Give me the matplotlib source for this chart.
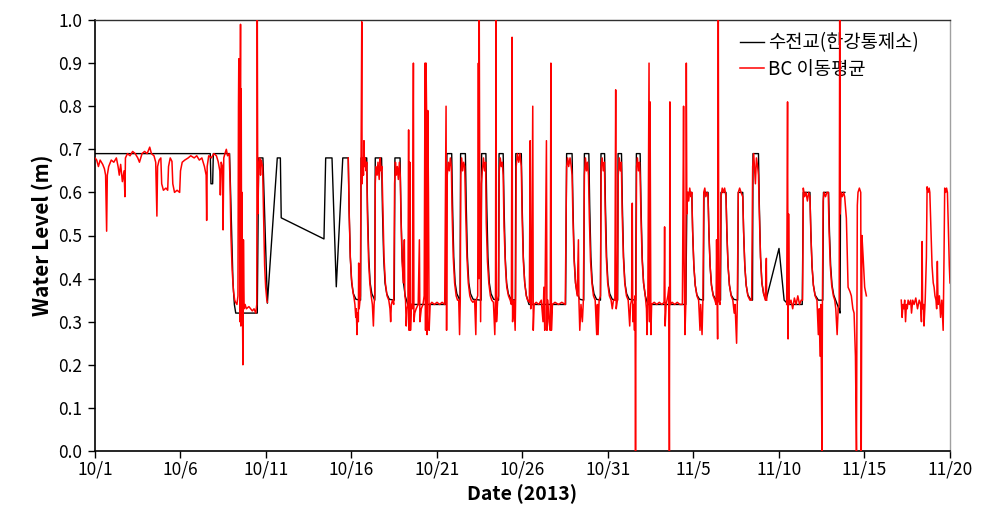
import numpy as np
import matplotlib
matplotlib.use("Agg")
import matplotlib.pyplot as plt

plt.rcParams['font.family'] = ['Noto Sans CJK KR', 'DejaVu Sans']

# ---- data (x in days since 2013-10-01) ----
tick_days = [0, 5, 10, 15, 20, 25, 30, 35, 40, 45, 50]
tick_labels = ['10/1', '10/6', '10/11', '10/16', '10/21', '10/26', '10/31',
               '11/5', '11/10', '11/15', '11/20']

black_days = [
    0.00, 6.74, 6.78, 6.88, 6.92, 7.87,
    8.00, 8.07, 8.15, 8.23, 9.49, 9.57, 9.82, 10.08, 10.66, 10.84, 10.89, 13.39, 13.49, 13.86, 14.11, 14.49, 14.81,
    14.86, 14.93, 15.01, 15.11, 15.26, 15.53, 15.56, 15.89,
    15.94, 16.01, 16.09, 16.19, 16.34, 16.36, 16.39, 16.76,
    16.81, 16.88, 16.96, 17.06, 17.21, 17.50, 17.54, 17.84,
    17.89, 17.96, 18.04, 18.14, 18.29, 20.52, 20.58, 20.86,
    20.91, 20.98, 21.06, 21.16, 21.31, 21.35, 21.38, 21.66,
    21.71, 21.78, 21.86, 21.96, 22.11, 22.58, 22.61, 22.86,
    22.91, 22.98, 23.06, 23.16, 23.31, 23.60, 23.63, 23.87,
    23.92, 23.99, 24.07, 24.17, 24.32, 24.58, 24.61, 24.93,
    24.98, 25.05, 25.13, 25.23, 25.38, 27.52, 27.58, 27.90,
    27.95, 28.02, 28.10, 28.20, 28.35, 28.58, 28.62, 28.88,
    28.93, 29.00, 29.08, 29.18, 29.33, 29.56, 29.59, 29.80,
    29.85, 29.92, 30.00, 30.10, 30.25, 30.56, 30.59, 30.79,
    30.84, 30.91, 30.99, 31.09, 31.24, 31.62, 31.66, 31.88,
    31.93, 32.00, 32.08, 32.18, 32.33, 34.55, 34.62, 34.90,
    34.95, 35.02, 35.10, 35.20, 35.35, 35.58, 35.61, 35.85,
    35.90, 35.97, 36.05, 36.15, 36.30, 36.58, 36.61, 36.90,
    36.95, 37.02, 37.10, 37.20, 37.35, 37.58, 37.62, 37.88,
    37.93, 38.00, 38.08, 38.18, 38.33, 38.45, 38.48, 38.80,
    38.85, 38.92, 39.00, 39.10, 39.24, 40.00, 40.30, 40.55, 41.36, 41.42, 41.81,
    41.86, 41.93, 42.01, 42.11, 42.30, 42.56, 42.60, 42.90,
    42.95, 43.02, 43.10, 43.20, 43.50, 43.57, 43.60, 43.85,
]
black_level = [
    0.69, 0.69, 0.62, 0.62, 0.69, 0.69,
    0.50, 0.39, 0.34, 0.32, 0.32, 0.68, 0.68, 0.343, 0.68, 0.68, 0.541, 0.492, 0.68, 0.68, 0.381, 0.68, 0.68,
    0.56, 0.45, 0.39, 0.365, 0.352, 0.35, 0.68, 0.68,
    0.56, 0.45, 0.39, 0.365, 0.352, 0.35, 0.68, 0.68,
    0.56, 0.45, 0.39, 0.365, 0.352, 0.35, 0.68, 0.68,
    0.56, 0.45, 0.39, 0.36, 0.34, 0.34, 0.69, 0.69,
    0.57, 0.45, 0.39, 0.365, 0.352, 0.35, 0.69, 0.69,
    0.57, 0.45, 0.39, 0.365, 0.352, 0.35, 0.69, 0.69,
    0.57, 0.45, 0.39, 0.365, 0.352, 0.35, 0.69, 0.69,
    0.57, 0.45, 0.39, 0.365, 0.352, 0.35, 0.69, 0.69,
    0.57, 0.45, 0.39, 0.36, 0.34, 0.34, 0.69, 0.69,
    0.57, 0.45, 0.39, 0.365, 0.352, 0.35, 0.69, 0.69,
    0.57, 0.45, 0.39, 0.365, 0.352, 0.35, 0.69, 0.69,
    0.57, 0.45, 0.39, 0.365, 0.352, 0.35, 0.69, 0.69,
    0.57, 0.45, 0.39, 0.365, 0.352, 0.35, 0.69, 0.69,
    0.57, 0.45, 0.39, 0.36, 0.34, 0.34, 0.60, 0.60,
    0.51, 0.43, 0.385, 0.362, 0.352, 0.35, 0.60, 0.60,
    0.51, 0.43, 0.385, 0.362, 0.352, 0.35, 0.60, 0.60,
    0.51, 0.43, 0.385, 0.362, 0.352, 0.35, 0.60, 0.60,
    0.51, 0.43, 0.385, 0.362, 0.352, 0.35, 0.69, 0.69,
    0.57, 0.45, 0.39, 0.365, 0.35, 0.47, 0.35, 0.34, 0.34, 0.60, 0.60,
    0.51, 0.43, 0.385, 0.362, 0.35, 0.35, 0.60, 0.60,
    0.51, 0.43, 0.385, 0.362, 0.33, 0.32, 0.60, 0.60,
]

nan = float('nan')
red_days = [
    0.00, 0.10, 0.20, 0.30, 0.45, 0.55, 0.62, 0.68, 0.72, 0.80, 0.95, 1.10, 1.25, 1.35, 1.42, 1.50,
    1.60, 1.70, 1.75, 1.78, 1.90, 2.05, 2.20, 2.35, 2.50, 2.60, 2.75, 2.90, 3.05, 3.20, 3.30, 3.45,
    3.55, 3.62, 3.66, 3.75, 3.85, 3.90, 4.00, 4.15, 4.25, 4.30, 4.40, 4.50, 4.55, 4.65, 4.80, 4.95,
    5.00, 5.10, 5.25, 5.45, 5.60, 5.80, 5.95, 6.10, 6.25, 6.40, 6.50, 6.53, 6.56, 6.65, 6.80, 6.95,
    7.10, 7.20, 7.30, 7.33, 7.38, 7.45, 7.49, 7.53, 7.60, 7.68, 7.75, 7.85, 7.90, 7.95, 8.02, 8.10,
    8.17, 8.22, 8.30, 8.36, 8.39, 8.41, 8.43, 8.45, 8.47, 8.49, 8.51, 8.53, 8.55, 8.57, 8.60, 8.63,
    8.65, 8.68, 8.72, 8.78, 8.85, 9.00, 9.10, 9.20, 9.30, 9.40, 9.46, 9.49, 9.52, 9.57, 9.63, 9.68,
    9.72, 9.80, 9.86, 9.92, 9.98, 10.05, 10.08, 10.09, 14.80,
    14.81, 14.86, 14.93, 15.00, 15.08, 15.15, 15.20, 15.25, 15.28, 15.32, 15.35, 15.40, 15.42, 15.45,
    15.52, 15.56, 15.60, 15.62, 15.66, 15.70, 15.73, 15.76, 15.80, 15.85, 15.89, 15.93, 16.00, 16.07,
    16.15, 16.22, 16.28, 16.32, 16.36, 16.39, 16.43, 16.50, 16.55, 16.62, 16.68, 16.73, 16.78, 16.84,
    16.90, 16.98, 17.08, 17.18, 17.25, 17.29, 17.33, 17.40, 17.47, 17.52, 17.57, 17.62, 17.68, 17.74,
    17.80, 17.85, 17.90, 17.96, 18.03, 18.09, 18.12, 18.16, 18.20, 18.25, 18.30, 18.34, 18.37, 18.41,
    18.45, 18.50, 18.56, 18.62, 18.65, 18.70, 18.78, 18.90, 18.97, 19.00, 19.08, 19.18, 19.25, 19.30,
    19.33, 19.36, 19.39, 19.42, 19.46, 19.50, 19.54, 19.60, 19.70, 19.85, 20.00, 20.15, 20.30, 20.45,
    20.53, 20.56, 20.60, 20.66, 20.72, 20.78, 20.84, 20.88, 20.95, 21.03, 21.12, 21.20, 21.27, 21.32,
    21.36, 21.39, 21.44, 21.50, 21.56, 21.62, 21.68, 21.75, 21.83, 21.92, 22.00, 22.10, 22.20, 22.27,
    22.30, 22.38, 22.42, 22.45, 22.47, 22.50, 22.55, 22.60, 22.65, 22.72, 22.78, 22.84, 22.88, 22.95,
    23.03, 23.12, 23.20, 23.30, 23.38, 23.42, 23.45, 23.48, 23.55, 23.60, 23.64, 23.70, 23.76, 23.82,
    23.87, 23.92, 24.00, 24.08, 24.18, 24.28, 24.35, 24.39, 24.42, 24.50, 24.57, 24.60, 24.63, 24.70,
    24.78, 24.85, 24.93, 24.98, 25.05, 25.13, 25.22, 25.30, 25.40, 25.45, 25.48, 25.53, 25.60, 25.63,
    25.68, 25.80, 25.95, 26.10, 26.20, 26.25, 26.30, 26.35, 26.40, 26.43, 26.48, 26.55, 26.62, 26.66,
    26.69, 26.75, 26.90, 27.10, 27.30, 27.50, 27.58, 27.64, 27.70, 27.78, 27.85, 27.90, 27.95, 28.02,
    28.10, 28.20, 28.27, 28.30, 28.35, 28.42, 28.50, 28.56, 28.62, 28.68, 28.74, 28.80, 28.86, 28.91,
    28.98, 29.06, 29.15, 29.25, 29.34, 29.38, 29.42, 29.48, 29.56, 29.60, 29.66, 29.72, 29.79, 29.84,
    29.90, 29.98, 30.08, 30.18, 30.25, 30.32, 30.40, 30.45, 30.48, 30.55, 30.60, 30.66, 30.72, 30.78,
    30.83, 30.90, 30.98, 31.08, 31.18, 31.27, 31.32, 31.38, 31.42, 31.45, 31.50, 31.55, 31.58, 31.61,
    31.64, 31.67, 31.72, 31.78, 31.84, 31.88, 31.93, 32.00, 32.08, 32.18, 32.25, 32.28, 32.33, 32.40,
    32.43, 32.46, 32.49, 32.51, 32.55, 32.70, 32.85, 33.00, 33.15, 33.28, 33.31, 33.34, 33.40, 33.50,
    33.56, 33.59, 33.62, 33.65, 33.75, 33.90, 34.05, 34.20, 34.35, 34.42, 34.45, 34.50, 34.55, 34.58,
    34.61, 34.66, 34.72, 34.78, 34.85, 34.90, 34.95, 35.02, 35.10, 35.20, 35.30, 35.38, 35.42, 35.50,
    35.55, 35.60, 35.66, 35.72, 35.80, 35.85, 35.90, 35.97, 36.05, 36.15, 36.25, 36.32, 36.35, 36.39,
    36.41, 36.45, 36.48, 36.55, 36.61, 36.68, 36.75, 36.82, 36.90, 36.95, 37.02, 37.10, 37.20, 37.30,
    37.38, 37.43, 37.48, 37.52, 37.56, 37.62, 37.70, 37.78, 37.88, 37.93, 38.00, 38.08, 38.18, 38.30,
    38.40, 38.46, 38.52, 38.58, 38.62, 38.68, 38.75, 38.80, 38.85, 38.92, 39.00, 39.10, 39.20, 39.26,
    39.28, 39.29, 40.44,
    40.45, 40.50, 40.53, 40.56, 40.60, 40.70, 40.80, 40.90, 41.00, 41.10, 41.20, 41.30, 41.38, 41.42,
    41.50, 41.58, 41.66, 41.74, 41.81, 41.86, 41.93, 42.01, 42.11, 42.22, 42.30, 42.35, 42.40, 42.45,
    42.51, 42.54, 42.58, 42.63, 42.72, 42.80, 42.88, 42.93, 43.00, 43.08, 43.18, 43.26, 43.32, 43.40,
    43.46, 43.52, 43.55, 43.58, 43.62, 43.70, 43.78, 43.84, 43.94, 44.04, 44.15, 44.23, 44.32, 44.39,
    44.47, 44.53, 44.58, 44.62, 44.70, 44.78, 44.81, 44.85, 44.92, 45.01, 45.11, 45.12, 47.14,
    47.15, 47.20, 47.25, 47.30, 47.35, 47.40, 47.45, 47.50, 47.55, 47.62, 47.70, 47.75, 47.82, 47.90,
    48.00, 48.10, 48.20, 48.28, 48.33, 48.37, 48.40, 48.45, 48.48, 48.55, 48.62, 48.66, 48.72, 48.78,
    48.82, 48.88, 48.95, 49.02, 49.07, 49.12, 49.18, 49.22, 49.26, 49.30, 49.38, 49.45, 49.52, 49.58,
    49.60, 49.65, 49.69, 49.75, 49.80, 49.85, 49.90, 49.96, 50.00,
]
red_level = [
    0.68, 0.675, 0.66, 0.675, 0.665, 0.655, 0.64, 0.51, 0.64, 0.66, 0.675, 0.67, 0.68, 0.66, 0.64, 0.665,
    0.625, 0.65, 0.59, 0.68, 0.69, 0.685, 0.695, 0.69, 0.68, 0.67, 0.69, 0.695, 0.69, 0.705, 0.69, 0.685,
    0.67, 0.545, 0.66, 0.675, 0.68, 0.62, 0.605, 0.61, 0.605, 0.66, 0.68, 0.672, 0.62, 0.60, 0.605, 0.60,
    0.65, 0.67, 0.675, 0.68, 0.685, 0.68, 0.685, 0.675, 0.68, 0.66, 0.64, 0.535, 0.66, 0.685, 0.68, 0.69,
    0.685, 0.672, 0.65, 0.594, 0.67, 0.66, 0.513, 0.68, 0.69, 0.70, 0.685, 0.69, 0.62, 0.50, 0.42, 0.37,
    0.35, 0.345, 0.34, 0.36, 0.80, 0.91, 0.55, 0.86, 0.30, 0.75, 0.99, 0.29, 0.84, 0.45, 0.60, 0.30,
    0.20, 0.49, 0.33, 0.34, 0.33, 0.335, 0.33, 0.325, 0.33, 0.32, 0.34, 1.02, 0.55, 0.66, 0.68, 0.64,
    0.675, 0.66, 0.55, 0.43, 0.38, 0.35, 0.345, nan, nan,
    0.68, 0.56, 0.45, 0.40, 0.37, 0.355, 0.34, 0.31, 0.33, 0.27, 0.32, 0.30, 0.436, 0.33,
    0.36, 0.66, 0.996, 0.62, 0.68, 0.64, 0.72, 0.66, 0.68, 0.65, 0.67, 0.55, 0.44, 0.39,
    0.36, 0.34, 0.29, 0.34, 0.36, 0.62, 0.66, 0.64, 0.67, 0.63, 0.68, 0.65, 0.66, 0.55,
    0.45, 0.39, 0.36, 0.35, 0.33, 0.30, 0.34, 0.35, 0.34, 0.62, 0.67, 0.64, 0.66, 0.63,
    0.67, 0.64, 0.53, 0.44, 0.39, 0.49, 0.36, 0.35, 0.29, 0.33, 0.34, 0.745, 0.28, 0.67,
    0.28, 0.34, 0.33, 0.90, 0.30, 0.32, 0.33, 0.34, 0.49, 0.30, 0.33, 0.34, 0.36, 0.90,
    0.28, 0.90, 0.79, 0.27, 0.79, 0.60, 0.28, 0.34, 0.345, 0.34, 0.345, 0.34, 0.345, 0.34,
    0.80, 0.28, 0.64, 0.67, 0.65, 0.68, 0.66, 0.56, 0.45, 0.39, 0.36, 0.35, 0.35, 0.27,
    0.35, 0.64, 0.68, 0.65, 0.67, 0.66, 0.55, 0.45, 0.39, 0.36, 0.35, 0.345, 0.35, 0.27,
    0.35, 0.36, 0.90, 0.40, 1.02, 0.60, 0.30, 0.62, 0.65, 0.68, 0.65, 0.67, 0.53, 0.44,
    0.39, 0.36, 0.35, 0.345, 0.27, 0.35, 1.02, 0.30, 0.35, 0.36, 0.65, 0.68, 0.66, 0.67,
    0.64, 0.52, 0.43, 0.38, 0.36, 0.35, 0.34, 0.96, 0.30, 0.35, 0.28, 0.36, 0.66, 0.69,
    0.67, 0.69, 0.66, 0.54, 0.44, 0.39, 0.36, 0.35, 0.345, 0.72, 0.33, 0.34, 0.80, 0.28,
    0.34, 0.345, 0.34, 0.35, 0.30, 0.38, 0.28, 0.50, 0.72, 0.28, 0.35, 0.30, 0.28, 0.90,
    0.28, 0.34, 0.345, 0.34, 0.345, 0.34, 0.66, 0.68, 0.66, 0.68, 0.66, 0.64, 0.54, 0.44,
    0.39, 0.36, 0.49, 0.35, 0.28, 0.34, 0.30, 0.35, 0.64, 0.68, 0.65, 0.67, 0.64, 0.54,
    0.44, 0.39, 0.36, 0.35, 0.27, 0.34, 0.27, 0.35, 0.36, 0.66, 0.68, 0.65, 0.67, 0.55,
    0.45, 0.39, 0.36, 0.35, 0.33, 0.35, 0.35, 0.838, 0.33, 0.35, 0.64, 0.68, 0.65, 0.67,
    0.55, 0.45, 0.39, 0.36, 0.35, 0.29, 0.34, 0.35, 0.575, 0.30, 0.34, 0.28, 0.36, 0.00,
    0.40, 0.66, 0.68, 0.65, 0.67, 0.64, 0.54, 0.44, 0.39, 0.36, 0.33, 0.27, 0.35, 0.90,
    0.30, 0.81, 0.45, 0.27, 0.34, 0.345, 0.34, 0.345, 0.34, 0.345, 0.52, 0.29, 0.34, 0.36,
    0.38, 0.00, 0.81, 0.34, 0.345, 0.34, 0.345, 0.34, 0.34, 0.80, 0.45, 0.27, 0.34, 0.90,
    0.55, 0.60, 0.58, 0.61, 0.59, 0.60, 0.51, 0.43, 0.385, 0.36, 0.35, 0.28, 0.34, 0.27,
    0.35, 0.60, 0.61, 0.59, 0.60, 0.59, 0.51, 0.43, 0.385, 0.36, 0.35, 0.34, 0.49, 0.33,
    0.26, 1.02, 0.35, 0.34, 0.59, 0.61, 0.60, 0.61, 0.59, 0.51, 0.43, 0.385, 0.36, 0.35,
    0.32, 0.34, 0.29, 0.25, 0.34, 0.60, 0.61, 0.60, 0.59, 0.51, 0.43, 0.385, 0.36, 0.35,
    0.35, 0.66, 0.69, 0.65, 0.62, 0.68, 0.66, 0.64, 0.55, 0.45, 0.39, 0.365, 0.35, 0.447,
    0.35, nan, nan,
    0.34, 0.81, 0.26, 0.55, 0.34, 0.35, 0.33, 0.355, 0.34, 0.36, 0.34, 0.35, 0.35, 0.61,
    0.59, 0.60, 0.58, 0.60, 0.59, 0.51, 0.43, 0.385, 0.36, 0.35, 0.27, 0.33, 0.22, 0.34,
    0.00, 0.35, 0.58, 0.60, 0.59, 0.60, 0.60, 0.51, 0.43, 0.385, 0.36, 0.35, 0.33, 0.27,
    0.33, 0.34, 1.02, 0.55, 0.60, 0.59, 0.60, 0.59, 0.54, 0.38, 0.37, 0.36, 0.33, 0.32,
    0.22, 0.00, 0.57, 0.60, 0.61, 0.60, 0.00, 0.50, 0.45, 0.38, 0.36, nan, nan,
    0.35, 0.31, 0.34, 0.33, 0.35, 0.30, 0.34, 0.33, 0.35, 0.34, 0.35, 0.32, 0.35, 0.34,
    0.355, 0.33, 0.35, 0.34, 0.30, 0.486, 0.33, 0.34, 0.29, 0.35, 0.45, 0.613, 0.60, 0.61,
    0.60, 0.52, 0.43, 0.39, 0.38, 0.36, 0.35, 0.33, 0.44, 0.34, 0.36, 0.31, 0.35, 0.30,
    0.28, 0.45, 0.61, 0.60, 0.61, 0.60, 0.52, 0.43, 0.39,
]

assert len(black_days) == len(black_level), (len(black_days), len(black_level))
assert len(red_days) == len(red_level), (len(red_days), len(red_level))

# ---- figure ----
fig = plt.figure(figsize=(10.03, 5.30), dpi=100)
ax = fig.add_axes([95 / 1003, 1 - 451 / 530, 855 / 1003, 431 / 530])

ax.plot(black_days, black_level, color='black', lw=1.0, label='수전교(한강통제소)', zorder=2)
ax.plot(red_days, red_level, color='#FF0000', lw=1.1, label='BC 이동평균', zorder=3)

ax.set_xlim(0, 50)
ax.set_ylim(0, 1.0)
ax.set_xticks(tick_days)
ax.set_xticklabels(tick_labels)
ax.set_yticks(np.arange(0, 1.01, 0.1))
ax.set_yticklabels([f'{v:.1f}' for v in np.arange(0, 1.01, 0.1)])
ax.tick_params(axis='both', direction='out', length=5, width=1, labelsize=12.5, colors='black')
ax.tick_params(axis='x', pad=2)
ax.tick_params(axis='y', pad=4)

for s in ['left', 'bottom']:
    ax.spines[s].set_color('black')
    ax.spines[s].set_linewidth(1.2)
ax.spines['top'].set_color('#303030')
ax.spines['top'].set_linewidth(1.0)
ax.spines['right'].set_color('#A0A0A0')
ax.spines['right'].set_linewidth(1.0)

ax.set_xlabel('Date (2013)', fontsize=14, fontweight='bold', labelpad=4)
ax.set_ylabel('Water Level (m)', fontsize=15, fontweight='bold', labelpad=4)

leg = ax.legend(loc='upper left', bbox_to_anchor=(0.74, 1.0), frameon=False,
                fontsize=13.5, handlelength=1.3, handletextpad=0.2,
                borderaxespad=0.25, labelspacing=0.3)
leg.set_zorder(1)

fig.savefig('out.png', dpi=100)
